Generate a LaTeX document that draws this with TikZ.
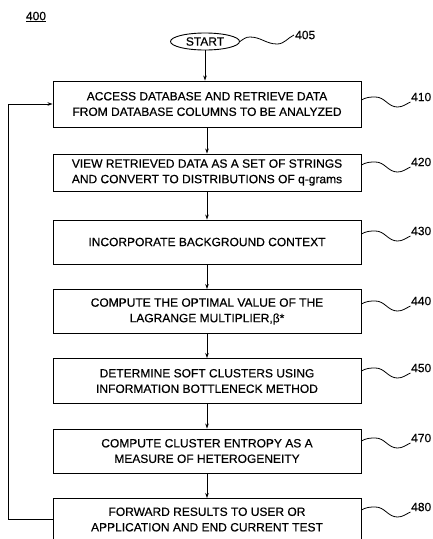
\documentclass[tikz,border=0pt]{standalone}
\usepackage{fontspec}
\setmainfont[FakeBold=0.5]{Liberation Sans}
\usetikzlibrary{arrows.meta,calc,shapes.geometric}
\begin{document}
\begin{tikzpicture}[x=1pt,y=-1pt,
  txt/.style={font=\fontsize{12}{15.5}\selectfont},
  box/.style={draw,line width=0.9pt,minimum width=308pt,align=center,txt,inner sep=2pt},
  term/.style={draw,ellipse,line width=0.9pt,minimum width=69pt,minimum height=17pt,inner sep=0pt,txt},
  flow/.style={line width=0.8pt,-{Stealth[length=5pt,width=3.5pt]}},
  wave/.style={line width=0.8pt},
  lbl/.style={txt,anchor=west,inner sep=1pt}]
\useasboundingbox (0,0) rectangle (433,539);
\node[txt] (n400) at (36,17) {\underline{400}};
\node[term] (start) at (205,41.5) {START};
\node[box,minimum height=46pt] (b410) at (207,104) {ACCESS DATABASE AND RETRIEVE DATA\\FROM DATABASE COLUMNS TO BE ANALYZED};
\node[box,minimum height=37pt] (b420) at (207,172.5) {VIEW RETRIEVED DATA AS A SET OF STRINGS\\AND CONVERT TO DISTRIBUTIONS OF q-grams};
\node[box,minimum height=44pt] (b430) at (207,242) {INCORPORATE BACKGROUND CONTEXT};
\node[box,minimum height=44pt] (b440) at (207,311.5) {COMPUTE THE OPTIMAL VALUE OF THE\\LAGRANGE MULTIPLIER,β*};
\node[box,minimum height=45pt] (b450) at (207,381) {DETERMINE SOFT CLUSTERS USING\\INFORMATION BOTTLENECK METHOD};
\node[box,minimum height=44pt] (b470) at (207,451) {COMPUTE CLUSTER ENTROPY AS A\\MEASURE OF HETEROGENEITY};
\node[box,minimum height=42pt] (b480) at (207,519.5) {FORWARD RESULTS TO USER OR\\APPLICATION AND END CURRENT TEST};
\draw[flow] (start) -- (b410.north -| start);
\draw[flow] (b410) -- (b420);
\draw[flow] (b420) -- (b430);
\draw[flow] (b430) -- (b440);
\draw[flow] (b440) -- (b450);
\draw[flow] (b450) -- (b470);
\draw[flow] (b470) -- (b480);
\coordinate (lp) at (8.5,519.5);
\draw[flow] (b480.west) -- (lp) -- (lp |- b410.west) -- (b410.west);
% reference labels
\node[lbl] (l405) at (294,35) {405};
\draw[wave] (start.east) to[out=35,in=180] (250,37) to[out=0,in=180] (277,44) to[out=0,in=205] (l405.west);
\foreach \b/\n/\y in {b410/410/97,b420/420/162,b430/430/231,b440/440/301,b450/450/368,b470/470/438,b480/480/507}{
  \node[lbl] (l\n) at (410,\y) {\n};
  \draw[wave] (\b.east |- 0,\y+3) to[out=30,in=180] ++(14,-3) to[out=0,in=180] ++(22,10) to[out=0,in=205] ++(13,-5);
}
\end{tikzpicture}
\end{document}
